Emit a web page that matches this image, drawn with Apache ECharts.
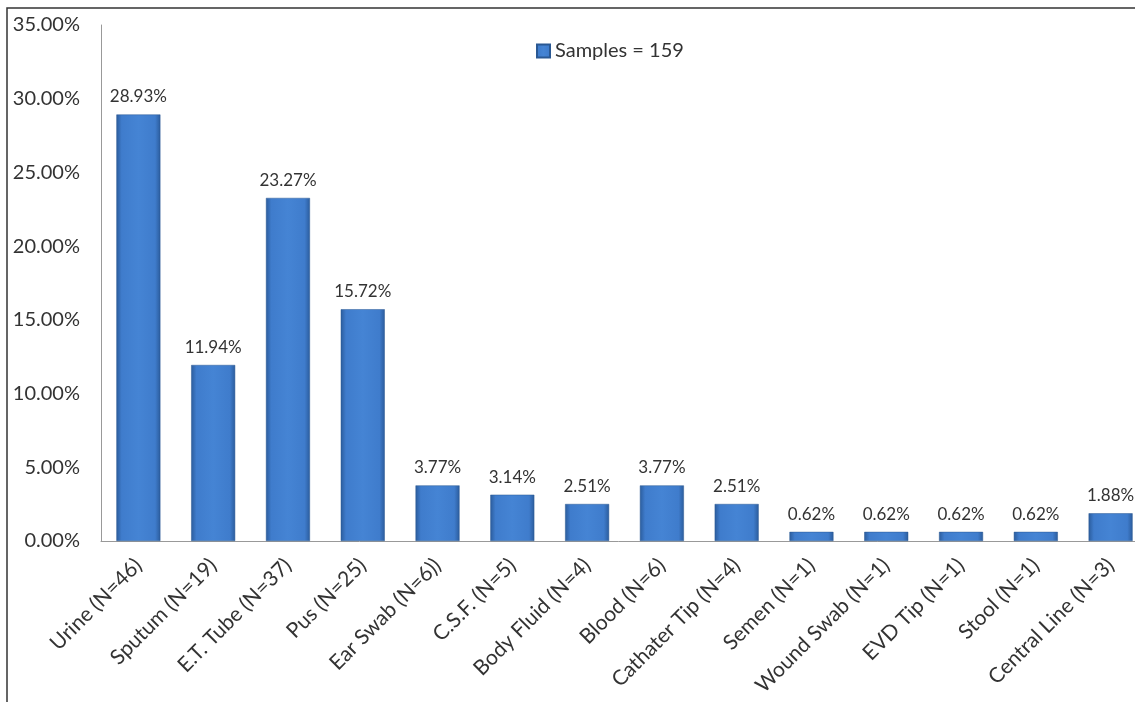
<!DOCTYPE html>
<html>
<head>
<meta charset="utf-8">
<script src="https://cdn.jsdelivr.net/npm/echarts@6/dist/echarts.min.js"></script>
<style>
  html, body { margin: 0; padding: 0; background: #fff; }
  #chart { width: 1135px; height: 702px; }
</style>
</head>
<body>
<div id="chart"></div>
<script>
// 样本类型及其占比
const categories = ['Urine (N=46)', 'Sputum (N=19)', 'E.T. Tube (N=37)', 'Pus (N=25)', 'Ear Swab (N=6))',
    'C.S.F. (N=5)', 'Body Fluid (N=4)', 'Blood (N=6)', 'Cathater Tip (N=4)', 'Semen (N=1)',
    'Wound Swab (N=1)', 'EVD Tip (N=1)', 'Stool (N=1)', 'Central Line (N=3)']
const percentValues = [28.93, 11.94, 23.27, 15.72, 3.77, 3.14, 2.51, 3.77, 2.51, 0.62, 0.62, 0.62, 0.62, 1.88]
const seriesName = 'Samples = 159'
const yTicks = {min: 0, max: 35, interval: 5}

const font = 'Lato, "Noto Sans", sans-serif'
const myChart = echarts.init(document.getElementById('chart'))

const barColor = new echarts.graphic.LinearGradient(0, 0, 1, 0, [
    {offset: 0, color: '#2b5c9c'},
    {offset: 0.12, color: '#3f7ccc'},
    {offset: 0.5, color: '#4584d4'},
    {offset: 0.88, color: '#3f7ccc'},
    {offset: 1, color: '#2b5c9c'}
])

const option = {
    animation: false,
    textStyle: {fontFamily: font},
    graphic: [{
        type: 'rect',
        shape: {x: 7, y: 8, width: 1200, height: 800},
        style: {fill: 'none', stroke: '#333', lineWidth: 1.5},
        silent: true
    }],
    legend: {
        left: 531,
        top: 36,
        itemWidth: 13,
        itemHeight: 13,
        itemGap: 3,
        textStyle: {fontSize: 20, color: '#333', fontFamily: font},
        data: [{name: seriesName, icon: 'rect'}]
    },
    grid: {
        left: 101,
        top: 25,
        right: -13,
        bottom: 161,
        containLabel: false,
        outerBoundsMode: 'none'
    },
    xAxis: {
        type: 'category',
        data: categories,
        axisLine: {lineStyle: {color: '#999', width: 1}},
        axisTick: {show: false},
        axisLabel: {
            interval: 0,
            rotate: 45,
            margin: 21,
            fontSize: 21,
            color: '#333',
            fontFamily: font
        }
    },
    yAxis: {
        type: 'value',
        min: yTicks.min,
        max: yTicks.max,
        interval: yTicks.interval,
        axisLine: {show: true, lineStyle: {color: '#999', width: 1}},
        axisTick: {show: false},
        splitLine: {show: false},
        axisLabel: {
            fontSize: 20,
            color: '#333',
            margin: 21,
            fontFamily: font,
            formatter: (v) => v.toFixed(2) + '%'
        }
    },
    series: [{
        name: seriesName,
        type: 'bar',
        data: percentValues,
        barWidth: 44,
        itemStyle: {color: barColor, borderColor: '#2a5893', borderWidth: 0.5},
        label: {
            show: true,
            position: 'top',
            distance: 9,
            fontSize: 17,
            color: '#333',
            fontFamily: font,
            formatter: (p) => p.value.toFixed(2) + '%'
        }
    }]
}
myChart.setOption(option)
</script>
</body>
</html>
